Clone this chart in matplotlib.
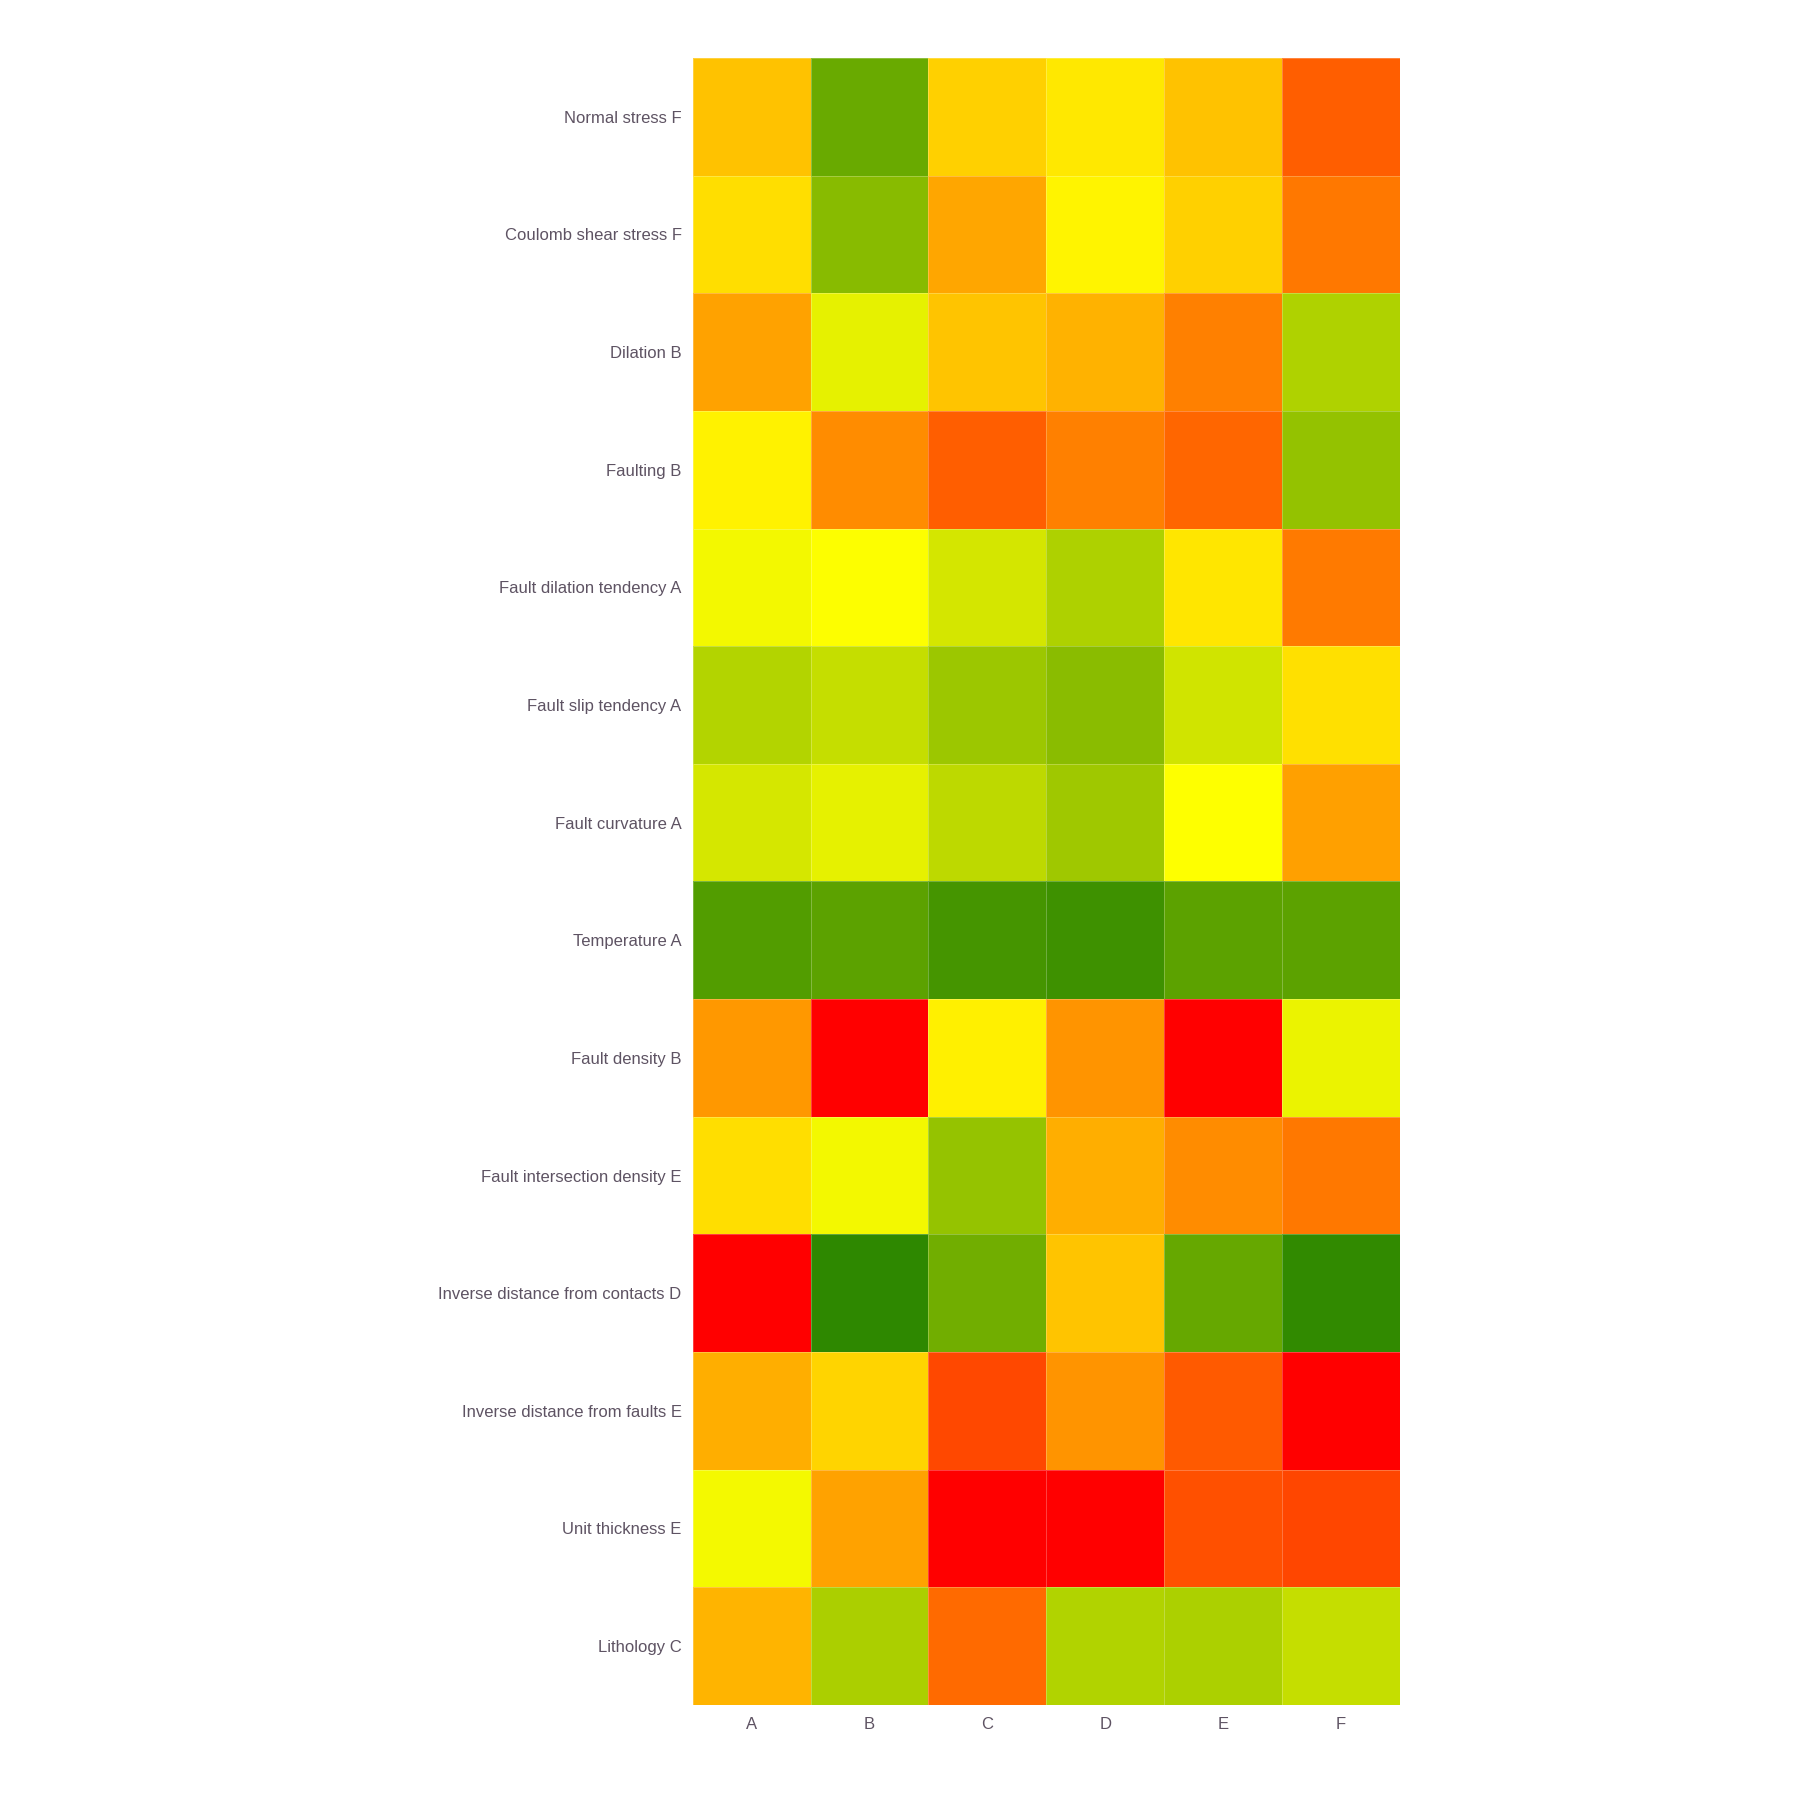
import numpy as np
import matplotlib
matplotlib.use("Agg")
import matplotlib.pyplot as plt
from matplotlib.colors import LinearSegmentedColormap

columns = ["A", "B", "C", "D", "E", "F"]
rows = [
    "Normal stress F",
    "Coulomb shear stress F",
    "Dilation B",
    "Faulting B",
    "Fault dilation tendency A",
    "Fault slip tendency A",
    "Fault curvature A",
    "Temperature A",
    "Fault density B",
    "Fault intersection density E",
    "Inverse distance from contacts D",
    "Inverse distance from faults E",
    "Unit thickness E",
    "Lithology C",
]

# score per cell (0 = red, 0.5 = yellow, 1 = green)
normal_stress = [0.38, 0.857, 0.41, 0.455, 0.38, 0.186]
coulomb = [0.437, 0.785, 0.325, 0.48, 0.41, 0.235]
dilation = [0.32, 0.56, 0.385, 0.35, 0.25, 0.69]
faulting = [0.475, 0.275, 0.186, 0.25, 0.2, 0.756]
dilation_tend = [0.531, 0.505, 0.603, 0.694, 0.45, 0.24]
slip_tend = [0.68, 0.64, 0.737, 0.78, 0.61, 0.44]
curvature = [0.6, 0.56, 0.66, 0.727, 0.5, 0.314]
temperature = [0.914, 0.89, 0.943, 0.96, 0.89, 0.89]
fault_density = [0.298, 0.0, 0.47, 0.29, 0.0, 0.55]
intersection = [0.437, 0.53, 0.75, 0.34, 0.275, 0.235]
inv_contacts = [0.0, 1.0, 0.837, 0.385, 0.866, 0.99]
inv_faults = [0.34, 0.416, 0.141, 0.29, 0.176, 0.0]
thickness = [0.526, 0.32, 0.0, 0.0, 0.157, 0.137]
lithology = [0.353, 0.703, 0.21, 0.684, 0.698, 0.64]

values = np.array([normal_stress, coulomb, dilation, faulting, dilation_tend,
                   slip_tend, curvature, temperature, fault_density, intersection,
                   inv_contacts, inv_faults, thickness, lithology])

cmap = LinearSegmentedColormap.from_list(
    "ryg", [(0.0, "#ff0000"), (0.5, "#ffff00"), (1.0, "#2e8800")])

plt.rcParams["font.family"] = ["Liberation Sans", "DejaVu Sans"]
text_color = "#5e5363"

fig = plt.figure(figsize=(18, 18), dpi=100)
ax = fig.add_axes([0.3848, 0.0528, 0.3930, 0.9150])
ax.pcolormesh(values, cmap=cmap, vmin=0, vmax=1,
              edgecolors=(1, 1, 1, 0.25), linewidth=0.6)
ax.set_xlim(0, len(columns))
ax.set_ylim(len(rows), 0)
ax.set_xticks(np.arange(len(columns)) + 0.5)
ax.set_xticklabels(columns)
ax.set_yticks(np.arange(len(rows)) + 0.5)
ax.set_yticklabels(rows)
ax.tick_params(length=0, labelsize=12, colors=text_color)
ax.tick_params(axis="x", pad=9)
ax.tick_params(axis="y", pad=8)
for s in ax.spines.values():
    s.set_visible(False)

fig.savefig("out.png", dpi=100, facecolor="white")
